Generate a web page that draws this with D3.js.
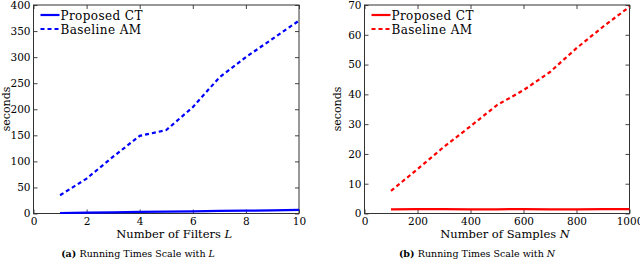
<!DOCTYPE html>
<html>
<head>
<meta charset="utf-8">
<script src="https://cdn.jsdelivr.net/npm/d3@7"></script>
<style>
  body { margin: 0; background: #fff; }
  svg text { font-family: "DejaVu Serif", serif; fill: #000; }
</style>
</head>
<body>
<svg id="chart" width="640" height="260"></svg>
<script>
// panel (a): running time vs number of filters L
const filters = [1, 2, 3, 4, 5, 6, 7, 8, 9, 10];
const ctByFilters = [1, 1.5, 2, 3, 3.5, 4, 5, 5.5, 6, 7];
const amByFilters = [35, 67, 109, 149, 160, 204, 261, 300, 335, 370];
const xTicksA = [0, 2, 4, 6, 8, 10];
const yTicksA = [0, 50, 100, 150, 200, 250, 300, 350, 400];

// panel (b): running time vs number of samples N
const samples = [100, 200, 300, 400, 500, 600, 700, 800, 900, 1000];
const ctBySamples = [1.4, 1.5, 1.5, 1.4, 1.4, 1.5, 1.4, 1.4, 1.5, 1.5];
const amBySamples = [7.6, 14.9, 22.4, 29.3, 36.4, 41.4, 47.5, 55.5, 62.7, 69.4];
const xTicksB = [0, 200, 400, 600, 800, 1000];
const yTicksB = [0, 10, 20, 30, 40, 50, 60, 70];

const svg = d3.select('#chart');

function panel(opts) {
    const x = d3.scaleLinear().domain(opts.xDomain).range([opts.left, opts.right]);
    const y = d3.scaleLinear().domain(opts.yDomain).range([213.5, 5]);
    const g = svg.append('g');

    const tick = 4;
    const fmt = d3.format('d');
    // ticks on all four sides, pointing in
    g.append('g')
        .attr('transform', 'translate(0,213.5)')
        .call(d3.axisBottom(x).tickValues(opts.xTicks).tickSizeInner(-tick).tickSizeOuter(0).tickPadding(4).tickFormat(fmt))
    g.append('g')
        .attr('transform', 'translate(0,5)')
        .call(d3.axisTop(x).tickValues(opts.xTicks).tickSizeInner(-tick).tickSizeOuter(0).tickFormat(''))
    g.append('g')
        .attr('transform', `translate(${opts.left},0)`)
        .call(d3.axisLeft(y).tickValues(opts.yTicks).tickSizeInner(-tick).tickSizeOuter(0).tickPadding(3).tickFormat(fmt))
    g.append('g')
        .attr('transform', `translate(${opts.right},0)`)
        .call(d3.axisRight(y).tickValues(opts.yTicks).tickSizeInner(-tick).tickSizeOuter(0).tickFormat(''))

    g.selectAll('.domain').remove();
    g.selectAll('.tick line').attr('stroke', '#444');
    g.selectAll('.tick text').attr('font-size', 10.5).attr('font-family', '"DejaVu Serif", serif');

    g.append('rect')
        .attr('x', opts.left)
        .attr('y', 5)
        .attr('width', opts.right - opts.left)
        .attr('height', 208.5)
        .attr('fill', 'none')
        .attr('stroke', '#333')
        .attr('stroke-width', 1)

    const line = d3.line()
        .x((d) => x(d[0]))
        .y((d) => y(d[1]));

    g.append('path')
        .datum(d3.zip(opts.xs, opts.ct))
        .attr('d', line)
        .attr('fill', 'none')
        .attr('stroke', opts.color)
        .attr('stroke-width', 2.2)

    g.append('path')
        .datum(d3.zip(opts.xs, opts.am))
        .attr('d', line)
        .attr('fill', 'none')
        .attr('stroke', opts.color)
        .attr('stroke-width', 2.2)
        .attr('stroke-dasharray', '4,3')

    // legend
    const lx = opts.left + 7;
    [['Proposed CT', null, 15], ['Baseline AM', '4,3', 29]].forEach(([label, dash, ly]) => {
        g.append('line')
            .attr('x1', lx).attr('x2', lx + 19)
            .attr('y1', ly).attr('y2', ly)
            .attr('stroke', opts.color)
            .attr('stroke-width', 2.2)
            .attr('stroke-dasharray', dash)
        g.append('text')
            .attr('x', lx + 20)
            .attr('y', ly + 4.5)
            .attr('font-size', 12)
            .attr('letter-spacing', 0.4)
            .text(label)
    });

    // axis labels
    const xl = g.append('text')
        .attr('x', (opts.left + opts.right) / 2 + 8)
        .attr('y', 237.5)
        .attr('text-anchor', 'middle')
        .attr('font-size', 11.5)
        .text(opts.xLabel + ' ');
    xl.append('tspan').attr('font-style', 'italic').text(opts.xVar);

    g.append('text')
        .attr('transform', `translate(${opts.left - 24},109) rotate(-90)`)
        .attr('text-anchor', 'middle')
        .attr('font-size', 11)
        .text('seconds')

    const cap = g.append('text')
        .attr('x', opts.capX)
        .attr('y', 257)
        .attr('text-anchor', 'middle')
        .attr('font-size', 9.5)
    cap.append('tspan').attr('font-weight', 'bold').text(opts.tag + ' ');
    cap.append('tspan').text('Running Times Scale with ');
    cap.append('tspan').attr('font-style', 'italic').text(opts.xVar);
}

panel({
    left: 33.5, right: 299, xDomain: [0, 10], yDomain: [0, 400],
    xTicks: xTicksA, yTicks: yTicksA,
    xs: filters, ct: ctByFilters, am: amByFilters,
    color: '#0000ff', xLabel: 'Number of Filters', xVar: 'L',
    tag: '(a)', capX: 138
});

panel({
    left: 364.5, right: 629.5, xDomain: [0, 1000], yDomain: [0, 70],
    xTicks: xTicksB, yTicks: yTicksB,
    xs: samples, ct: ctBySamples, am: amBySamples,
    color: '#ff0000', xLabel: 'Number of Samples', xVar: 'N',
    tag: '(b)', capX: 477
});
</script>
</body>
</html>
